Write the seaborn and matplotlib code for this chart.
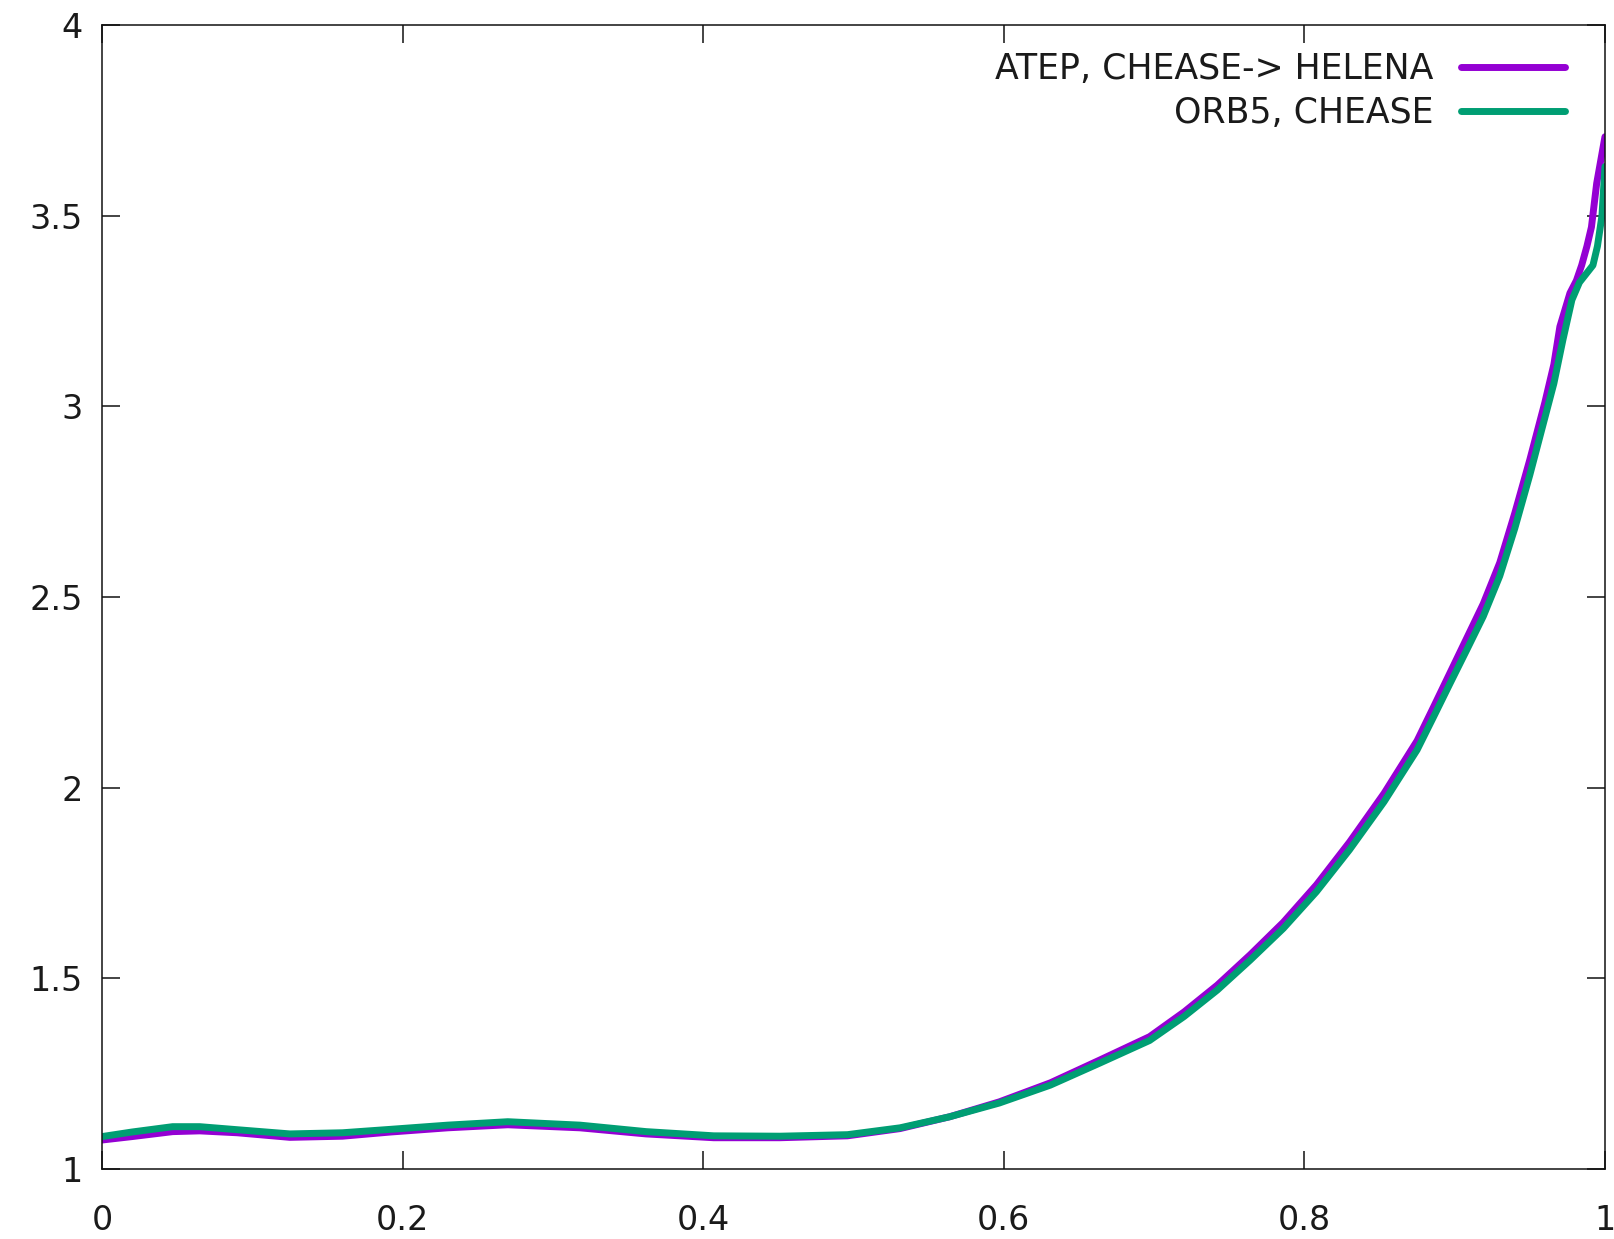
import numpy as np
import pandas as pd
import matplotlib
matplotlib.use("Agg")
import matplotlib.pyplot as plt
import seaborn as sns
from matplotlib.ticker import FuncFormatter

# ---- data ----
labels = ["ATEP, CHEASE-> HELENA", "ORB5, CHEASE"]
colors = ["#9400D3", "#009E73"]

x_atep = [0.0, 0.02, 0.047, 0.065, 0.09, 0.125, 0.16, 0.192, 0.23, 0.27, 0.318,
          0.362, 0.407, 0.451, 0.496, 0.531, 0.564, 0.597, 0.631, 0.664, 0.697,
          0.72, 0.742, 0.764, 0.786, 0.808, 0.83, 0.853, 0.875, 0.886, 0.897,
          0.908, 0.919, 0.93, 0.94, 0.95, 0.96, 0.966, 0.97, 0.9767, 0.981,
          0.9845, 0.988, 0.991, 0.9945, 1.0]
y_atep = [1.076, 1.085, 1.098, 1.100, 1.095, 1.083, 1.086, 1.097, 1.108, 1.116, 1.108,
          1.092, 1.082, 1.082, 1.087, 1.106, 1.137, 1.176, 1.226, 1.286, 1.347,
          1.412, 1.482, 1.562, 1.647, 1.745, 1.857, 1.985, 2.123, 2.212, 2.302,
          2.392, 2.482, 2.59, 2.72, 2.86, 3.01, 3.11, 3.209, 3.297, 3.33,
          3.37, 3.42, 3.47, 3.585, 3.707]

x_orb5 = [0.0, 0.02, 0.047, 0.065, 0.09, 0.125, 0.16, 0.192, 0.23, 0.27, 0.318,
          0.362, 0.407, 0.451, 0.496, 0.531, 0.564, 0.597, 0.631, 0.664, 0.697,
          0.72, 0.742, 0.764, 0.786, 0.808, 0.83, 0.853, 0.875, 0.886, 0.897,
          0.908, 0.919, 0.93, 0.94, 0.95, 0.96, 0.966, 0.972, 0.978, 0.983,
          0.988, 0.992, 0.995, 0.998, 1.0]
y_orb5 = [1.085, 1.097, 1.111, 1.111, 1.103, 1.092, 1.095, 1.104, 1.115, 1.124, 1.115,
          1.098, 1.087, 1.086, 1.090, 1.108, 1.137, 1.173, 1.220, 1.278, 1.337,
          1.400, 1.469, 1.548, 1.631, 1.727, 1.837, 1.963, 2.099, 2.186, 2.274,
          2.361, 2.449, 2.555, 2.68, 2.82, 2.97, 3.06, 3.174, 3.279, 3.325,
          3.35, 3.37, 3.42, 3.50, 3.629]

x_ticks = [0, 0.2, 0.4, 0.6, 0.8, 1.0]
y_ticks = [1, 1.5, 2, 2.5, 3, 3.5, 4]

df = pd.concat([
    pd.DataFrame({"x": x_atep, "y": y_atep, "series": labels[0]}),
    pd.DataFrame({"x": x_orb5, "y": y_orb5, "series": labels[1]}),
], ignore_index=True)

sns.set_theme(style="ticks")
plt.rcParams["font.family"] = ["DejaVu Sans"]

fig = plt.figure(figsize=(16.14, 12.39), dpi=100)
ax = fig.add_axes([0.0632, 0.0565, 0.9312, 0.9233])

sns.lineplot(data=df, x="x", y="y", hue="series", hue_order=labels,
             palette=dict(zip(labels, colors)), linewidth=5,
             estimator=None, ax=ax)
for ln in ax.get_lines():
    ln.set_solid_capstyle("round")
    ln.set_solid_joinstyle("round")

ax.set_xlim(0, 1)
ax.set_ylim(1, 4)
ax.set_xticks(x_ticks)
ax.set_yticks(y_ticks)
fmt = FuncFormatter(lambda v, p: f"{v:g}")
ax.xaxis.set_major_formatter(fmt)
ax.yaxis.set_major_formatter(fmt)
ax.set_xlabel("")
ax.set_ylabel("")

for s in ax.spines.values():
    s.set_visible(True)
    s.set_linewidth(1.1)
    s.set_color("#111111")

ax.tick_params(axis="both", which="major", direction="in", length=13, width=1.1,
               color="#111111", labelsize=24, labelcolor="#1a1a1a",
               top=True, right=True)
ax.tick_params(axis="x", pad=25)
ax.tick_params(axis="y", pad=14)

handles, lbls = ax.get_legend_handles_labels()
leg = ax.legend(handles, lbls, loc="upper right", bbox_to_anchor=(0.9734, 0.9765),
                frameon=False, markerfirst=False, fontsize=25, handlelength=3.0,
                handletextpad=0.8, labelspacing=0.3, borderpad=0, borderaxespad=0)
for t in leg.get_texts():
    t.set_color("#1a1a1a")
for l in leg.get_lines():
    l.set_linewidth(5)
    l.set_solid_capstyle("round")

fig.savefig("out.png", dpi=100)
